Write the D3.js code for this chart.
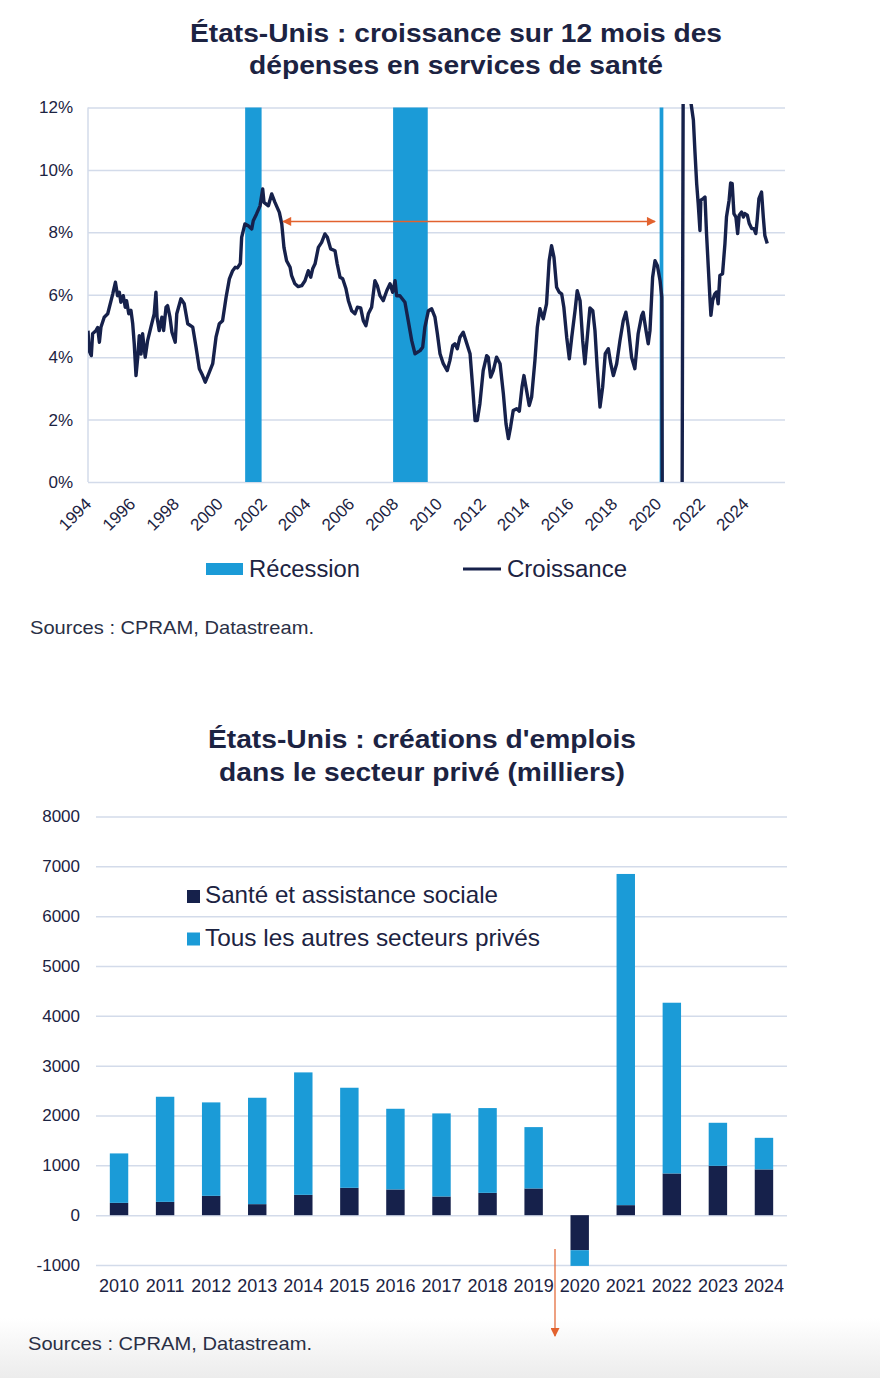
<!DOCTYPE html>
<html>
<head>
<meta charset="utf-8">
<script src="https://cdn.jsdelivr.net/npm/d3@7"></script>
<style>
  body { margin: 0; background: #fff; }
  svg { display: block; font-family: "Liberation Sans", Arial, sans-serif; }
</style>
</head>
<body>
<div id="chart-area"></div>
<script>
const W = 880, H = 1378,
  navy = "#16214b",
  blue = "#1b9bd7",
  grid = "#d3dbea",
  ink = "#1c2342",
  orange = "#e2622e";

// ---- chart 1 data: [decimal year, y/y growth %]
const growthSeries = [
  [1994.00, 4.85], [1994.05, 4.21], [1994.15, 4.05], [1994.21, 4.75], [1994.36, 4.85], [1994.44, 4.95],
  [1994.52, 4.48], [1994.59, 4.96], [1994.74, 5.28], [1994.90, 5.39], [1995.13, 6.03], [1995.25, 6.40],
  [1995.35, 5.97], [1995.43, 6.08], [1995.50, 5.76], [1995.61, 5.97], [1995.70, 5.60], [1995.76, 5.81],
  [1995.86, 5.39], [1995.96, 5.50], [1996.04, 5.07], [1996.11, 4.43], [1996.19, 3.41], [1996.27, 4.00],
  [1996.34, 4.69], [1996.42, 4.10], [1996.49, 4.75], [1996.61, 4.00], [1996.72, 4.53], [1996.87, 4.96],
  [1997.02, 5.39], [1997.10, 6.08], [1997.15, 5.28], [1997.25, 4.85], [1997.37, 5.28], [1997.45, 4.85],
  [1997.56, 5.60], [1997.63, 5.65], [1997.74, 5.28], [1997.83, 4.80], [1997.98, 4.48], [1998.05, 5.39],
  [1998.24, 5.87], [1998.39, 5.71], [1998.55, 5.07], [1998.78, 4.96], [1998.93, 4.32], [1999.08, 3.63],
  [1999.23, 3.41], [1999.35, 3.20], [1999.51, 3.47], [1999.69, 3.79], [1999.84, 4.64], [1999.99, 5.07],
  [2000.14, 5.17], [2000.30, 5.92], [2000.45, 6.51], [2000.60, 6.77], [2000.72, 6.88], [2000.82, 6.86],
  [2000.95, 7.00], [2001.01, 7.84], [2001.16, 8.27], [2001.31, 8.21], [2001.47, 8.11], [2001.54, 8.37],
  [2001.69, 8.59], [2001.85, 8.85], [2001.97, 9.39], [2002.03, 8.96], [2002.23, 8.85], [2002.38, 9.23],
  [2002.53, 8.96], [2002.73, 8.64], [2002.84, 8.27], [2002.94, 7.52], [2003.06, 7.09], [2003.22, 6.88],
  [2003.29, 6.61], [2003.44, 6.35], [2003.59, 6.26], [2003.75, 6.29], [2003.90, 6.45], [2004.05, 6.77],
  [2004.16, 6.56], [2004.25, 6.83], [2004.36, 6.99], [2004.51, 7.52], [2004.66, 7.68], [2004.81, 7.95],
  [2004.92, 7.84], [2005.07, 7.47], [2005.27, 7.41], [2005.37, 6.99], [2005.50, 6.56], [2005.62, 6.51],
  [2005.77, 6.19], [2005.88, 5.81], [2006.03, 5.49], [2006.18, 5.39], [2006.29, 5.60], [2006.44, 5.58],
  [2006.56, 5.17], [2006.68, 5.01], [2006.79, 5.39], [2006.94, 5.60], [2007.09, 6.45], [2007.20, 6.29],
  [2007.32, 5.97], [2007.47, 5.81], [2007.63, 6.13], [2007.78, 6.35], [2007.90, 6.08], [2008.01, 6.45],
  [2008.08, 5.97], [2008.23, 5.97], [2008.46, 5.76], [2008.61, 5.17], [2008.77, 4.53], [2008.92, 4.11],
  [2009.15, 4.21], [2009.27, 4.32], [2009.37, 4.96], [2009.53, 5.49], [2009.68, 5.55], [2009.83, 5.28],
  [2009.94, 4.75], [2010.06, 4.11], [2010.21, 3.79], [2010.39, 3.57], [2010.51, 3.89], [2010.64, 4.37],
  [2010.74, 4.43], [2010.85, 4.27], [2010.97, 4.64], [2011.12, 4.80], [2011.24, 4.53], [2011.43, 4.11],
  [2011.55, 3.04], [2011.66, 1.97], [2011.76, 1.97], [2011.88, 2.51], [2012.03, 3.57], [2012.19, 4.05],
  [2012.26, 4.00], [2012.37, 3.36], [2012.49, 3.57], [2012.64, 4.00], [2012.80, 3.79], [2012.95, 2.83],
  [2013.07, 1.87], [2013.18, 1.39], [2013.28, 1.76], [2013.40, 2.29], [2013.56, 2.35], [2013.68, 2.27],
  [2013.80, 3.04], [2013.89, 3.41], [2014.01, 2.93], [2014.13, 2.45], [2014.24, 2.72], [2014.39, 3.89],
  [2014.50, 4.96], [2014.62, 5.55], [2014.77, 5.23], [2014.92, 5.71], [2015.04, 7.09], [2015.15, 7.57],
  [2015.26, 7.20], [2015.38, 6.24], [2015.50, 6.08], [2015.61, 6.03], [2015.71, 5.60], [2015.84, 4.64],
  [2015.96, 3.95], [2016.07, 4.64], [2016.22, 5.49], [2016.32, 6.13], [2016.45, 5.81], [2016.57, 4.53],
  [2016.67, 3.79], [2016.78, 4.64], [2016.90, 5.58], [2017.03, 5.49], [2017.13, 4.85], [2017.23, 3.68],
  [2017.36, 2.40], [2017.48, 3.04], [2017.60, 4.11], [2017.74, 4.27], [2017.85, 3.79], [2017.97, 3.41],
  [2018.12, 3.79], [2018.27, 4.53], [2018.42, 5.17], [2018.54, 5.44], [2018.65, 4.96], [2018.80, 4.00],
  [2018.95, 3.63], [2019.10, 4.75], [2019.26, 5.33], [2019.33, 5.44], [2019.46, 4.85], [2019.56, 4.43],
  [2019.64, 4.85], [2019.76, 6.56], [2019.87, 7.09], [2019.98, 6.93], [2020.10, 6.45], [2020.18, 5.92],
  [2020.26, -20], [2020.50, -8], [2020.75, -5], [2021.00, -3], [2021.10, -2], [2021.20, 25],
  [2021.35, 16], [2021.50, 12.2], [2021.62, 11.6], [2021.69, 10.6], [2021.77, 9.56], [2021.84, 8.92],
  [2021.92, 8.06], [2021.96, 9.03], [2022.07, 9.08], [2022.15, 9.13], [2022.22, 7.96], [2022.30, 6.89],
  [2022.38, 5.82], [2022.42, 5.34], [2022.50, 5.82], [2022.60, 6.03], [2022.68, 6.09], [2022.75, 5.71],
  [2022.83, 6.62], [2022.95, 6.67], [2023.06, 7.64], [2023.13, 8.49], [2023.25, 9.03], [2023.32, 9.58],
  [2023.39, 9.56], [2023.47, 8.60], [2023.56, 8.49], [2023.64, 7.96], [2023.71, 8.55], [2023.82, 8.65],
  [2023.90, 8.49], [2023.97, 8.60], [2024.08, 8.55], [2024.17, 8.28], [2024.28, 8.12], [2024.38, 8.12],
  [2024.47, 7.96], [2024.53, 8.39], [2024.61, 9.08], [2024.73, 9.29], [2024.81, 8.49], [2024.88, 7.90],
  [2024.99, 7.64]
];
const recessions = [[2001.17, 2001.92], [2007.92, 2009.5], [2020.08, 2020.25]];
const growthTicks = [0, 2, 4, 6, 8, 10, 12];
const yearTicks = d3.range(1994, 2025, 2);
const arrowSpan = { from: 2002.9, to: 2019.87, level: 8.35 };

// ---- chart 2 data: job creations, thousands
const jobYears = ["2010", "2011", "2012", "2013", "2014", "2015", "2016", "2017", "2018", "2019", "2020", "2021", "2022", "2023", "2024"];
const healthJobs = [247, 267, 388, 221, 408, 549, 516, 375, 448, 536, -703, 201, 837, 990, 918];
const otherJobs = [992, 2109, 1875, 2135, 2457, 2008, 1619, 1667, 1701, 1231, -315, 6646, 3426, 864, 634];
const jobTicks = [-1000, 0, 1000, 2000, 3000, 4000, 5000, 6000, 7000, 8000];
const jobSeries = ["Santé et assistance sociale", "Tous les autres secteurs privés"];

const svg = d3.select("#chart-area").append("svg").attr("width", W).attr("height", H);
const defs = svg.append("defs");

// faint grey fade at the page bottom
const fade = defs.append("linearGradient").attr("id", "fade").attr("x1", 0).attr("y1", 0).attr("x2", 0).attr("y2", 1);
fade.append("stop").attr("offset", "0%").attr("stop-color", "#fff");
fade.append("stop").attr("offset", "100%").attr("stop-color", "#ececec");
svg.append("rect").attr("x", 0).attr("y", 1318).attr("width", W).attr("height", H - 1318).attr("fill", "url(#fade)");

function arrowHead(id) {
  defs.append("marker")
    .attr("id", id)
    .attr("viewBox", "0 0 10 10")
    .attr("refX", 9).attr("refY", 5)
    .attr("markerWidth", 11).attr("markerHeight", 9)
    .attr("markerUnits", "userSpaceOnUse")
    .attr("orient", "auto-start-reverse")
    .append("path").attr("d", "M0,0L10,5L0,10Z").attr("fill", orange);
}
arrowHead("arr");

// text stretched to the width it has in the picture
function wideText(sel, x, y, str, len) {
  return sel.append("text").attr("x", x).attr("y", y)
    .attr("textLength", len).attr("lengthAdjust", "spacingAndGlyphs").text(str);
}

//==================== chart 1 ====================
const x1 = d3.scaleLinear().domain([1994, 2025.8]).range([88, 785]);
const y1 = d3.scaleLinear().domain([0, 12]).range([482, 107.5]);

const title1 = svg.append("g").attr("fill", ink).style("font-weight", "bold").style("font-size", "26px");
wideText(title1, 190, 42, "États-Unis : croissance sur 12 mois des", 532);
wideText(title1, 249, 74, "dépenses en services de santé", 414);

//y axis + grid
const yAxis1 = svg.append("g").attr("transform", "translate(88,0)")
  .call(d3.axisLeft(y1).tickValues(growthTicks).tickFormat(d => d + "%").tickSize(-(785 - 88)).tickPadding(15));
yAxis1.select(".domain").remove();
yAxis1.selectAll(".tick line").attr("stroke", grid).attr("stroke-width", 1.5);
yAxis1.selectAll(".tick text").attr("fill", ink).style("font-size", "17px").style("font-family", "Liberation Sans, Arial, sans-serif");
svg.append("line").attr("x1", 88).attr("x2", 88).attr("y1", y1(12)).attr("y2", y1(0))
  .attr("stroke", grid).attr("stroke-width", 1.5);

//recessions
svg.selectAll("rect.rec")
  .data(recessions)
  .enter()
  .append("rect")
  .attr("class", "rec")
  .attr("x", d => x1(d[0]))
  .attr("width", d => x1(d[1]) - x1(d[0]))
  .attr("y", y1(12))
  .attr("height", y1(0) - y1(12))
  .attr("fill", blue);

//x axis labels
const xAxis1 = svg.append("g").attr("transform", "translate(0," + y1(0) + ")")
  .call(d3.axisBottom(x1).tickValues(yearTicks).tickFormat(d3.format("d")).tickSize(0));
xAxis1.select(".domain").remove();
xAxis1.selectAll(".tick text")
  .attr("y", 0).attr("dy", 0)
  .attr("transform", "translate(4,23) rotate(-45)")
  .style("text-anchor", "end")
  .style("font-size", "17px")
  .style("font-family", "Liberation Sans, Arial, sans-serif")
  .attr("fill", ink);

//growth line
defs.append("clipPath").attr("id", "plot1")
  .append("rect").attr("x", 88).attr("y", 104).attr("width", 785 - 88).attr("height", y1(0) - 104);
const line = d3.line().x(d => x1(d[0])).y(d => y1(d[1]));
svg.append("path")
  .datum(growthSeries)
  .attr("clip-path", "url(#plot1)")
  .attr("d", line)
  .attr("fill", "none")
  .attr("stroke", navy)
  .attr("stroke-width", 3.4)
  .attr("stroke-linejoin", "round");

//double arrow
svg.append("line")
  .attr("x1", x1(arrowSpan.from)).attr("x2", x1(arrowSpan.to))
  .attr("y1", y1(arrowSpan.level)).attr("y2", y1(arrowSpan.level))
  .attr("stroke", orange).attr("stroke-width", 1.5)
  .attr("marker-start", "url(#arr)").attr("marker-end", "url(#arr)");

//legend
const leg1 = svg.append("g").style("font-size", "23px").attr("fill", ink);
leg1.append("rect").attr("x", 206).attr("y", 563).attr("width", 37).attr("height", 12).attr("fill", blue);
wideText(leg1, 249, 577, "Récession", 111);
leg1.append("line").attr("x1", 463).attr("x2", 501).attr("y1", 569).attr("y2", 569).attr("stroke", navy).attr("stroke-width", 3);
wideText(leg1, 507, 577, "Croissance", 120);

const src1 = svg.append("g").attr("fill", "#2a2f45").style("font-size", "19px");
wideText(src1, 30, 634, "Sources : CPRAM, Datastream.", 284);

//==================== chart 2 ====================
const x2 = d3.scaleBand().domain(jobYears).range([96, 787]).paddingInner(0.6).paddingOuter(0.3);
const y2 = d3.scaleLinear().domain([-1000, 8000]).range([1265, 816.5]);

const title2 = svg.append("g").attr("fill", ink).style("font-weight", "bold").style("font-size", "26px");
wideText(title2, 208, 748, "États-Unis : créations d'emplois", 428);
wideText(title2, 219, 781, "dans le secteur privé (milliers)", 406);

const yAxis2 = svg.append("g").attr("transform", "translate(96,0)")
  .call(d3.axisLeft(y2).tickValues(jobTicks).tickFormat(d => String(d)).tickSize(-(787 - 96)).tickPadding(16));
yAxis2.select(".domain").remove();
yAxis2.selectAll(".tick line").attr("stroke", grid).attr("stroke-width", 1.5);
yAxis2.selectAll(".tick text").attr("fill", ink).style("font-size", "17px").style("font-family", "Liberation Sans, Arial, sans-serif");

const xAxis2 = svg.append("g").attr("transform", "translate(0,1265)")
  .call(d3.axisBottom(x2).tickSize(0).tickPadding(14));
xAxis2.select(".domain").remove();
xAxis2.selectAll(".tick text").attr("fill", ink).style("font-size", "18px").style("font-family", "Liberation Sans, Arial, sans-serif");

//stacked bars
const table = jobYears.map((yr, i) => ({ year: yr, health: healthJobs[i], other: otherJobs[i] }));
const stack = d3.stack().keys(["health", "other"]).offset(d3.stackOffsetDiverging)(table);
const fills = [navy, blue];
svg.append("g").selectAll("g")
  .data(stack)
  .enter()
  .append("g")
  .attr("fill", (d, i) => fills[i])
  .selectAll("rect")
  .data(d => d)
  .enter()
  .append("rect")
  .attr("x", d => x2(d.data.year))
  .attr("width", x2.bandwidth())
  .attr("y", d => y2(Math.max(d[0], d[1])))
  .attr("height", d => Math.abs(y2(d[0]) - y2(d[1])));

//legend
const leg2 = svg.append("g").style("font-size", "24px").attr("fill", ink);
const legLens = [293, 335];
jobSeries.forEach((name, i) => {
  leg2.append("rect").attr("x", 187).attr("y", 890 + i * 42.5).attr("width", 13).attr("height", 13).attr("fill", fills[i]);
  wideText(leg2, 205, 903 + i * 42.5, name, legLens[i]);
});

//down arrow
svg.append("line")
  .attr("x1", 555).attr("x2", 555)
  .attr("y1", y2(-680)).attr("y2", 1336)
  .attr("stroke", orange).attr("stroke-width", 1.2)
  .attr("marker-end", "url(#arr)");

const src2 = svg.append("g").attr("fill", "#2a2f45").style("font-size", "19px");
wideText(src2, 28, 1350, "Sources : CPRAM, Datastream.", 284);
</script>
</body>
</html>
